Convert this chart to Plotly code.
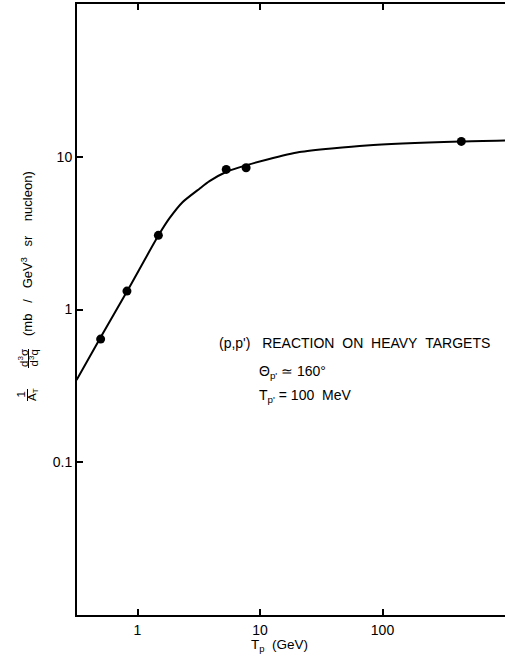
import plotly.graph_objects as go

# measured data points
pt_x = [0.50, 0.82, 1.48, 5.3, 7.7, 440]
pt_y = [0.64, 1.32, 3.06, 8.26, 8.47, 12.6]

# fitted curve
curve_x = [0.318, 0.499, 0.829, 1.484, 1.825, 2.33, 3.21, 3.87, 5.33, 7.76, 11.5, 21.0, 74.0, 433, 1000]
curve_y = [0.345, 0.656, 1.33, 3.06, 3.96, 5.04, 6.18, 6.92, 7.98, 8.80, 9.60, 10.73, 11.86, 12.59, 12.78]

x_ticks = [1, 10, 100]
y_ticks = [0.1, 1, 10]

FONT = "Liberation Sans, Arial, sans-serif"

fig = go.Figure()
fig.add_trace(go.Scatter(x=curve_x, y=curve_y, mode="lines",
                         line=dict(color="black", width=2, shape="spline", smoothing=0.6),
                         showlegend=False, hoverinfo="skip"))
fig.add_trace(go.Scatter(x=pt_x, y=pt_y, mode="markers",
                         marker=dict(color="black", size=9),
                         showlegend=False))

W, H = 505, 660
L, R, T, B = 77, 0, 4, 45
pw, ph = W - L - R, H - T - B

def px(x):
    return (x - L) / pw

def py(y):
    return (H - B - y) / ph

NB = "\u00a0"
anns = []
tf = dict(family=FONT, size=14, color="black")
anns.append(dict(x=px(217), y=py(343), xref="paper", yref="paper", xanchor="left", yanchor="middle",
                 text="(p,p')" + NB * 3 + "REACTION" + NB * 2 + "ON" + NB * 2 + "HEAVY" + NB * 2 + "TARGETS",
                 showarrow=False, font=tf))
anns.append(dict(x=px(257), y=py(372), xref="paper", yref="paper", xanchor="left", yanchor="middle",
                 text="\u0398<sub>p'</sub> \u2243 160\u00b0", showarrow=False, font=tf))
anns.append(dict(x=px(257), y=py(396), xref="paper", yref="paper", xanchor="left", yanchor="middle",
                 text="T<sub>p'</sub> = 100" + NB * 2 + "MeV", showarrow=False, font=tf))
# x title
anns.append(dict(x=px(279), y=py(645), xref="paper", yref="paper", xanchor="center", yanchor="middle",
                 text="T<sub>p</sub>" + NB * 2 + "(GeV)", showarrow=False,
                 font=dict(family=FONT, size=13.5, color="black")))

# y title pieces (rotated)
yf = dict(family=FONT, size=11.5, color="black")

def rot(xc, yc, text, size=11.5):
    anns.append(dict(x=px(xc), y=py(yc), xref="paper", yref="paper", xanchor="center", yanchor="middle",
                     text=text, textangle=-90, showarrow=False,
                     font=dict(family=FONT, size=size, color="black")))

rot(20.5, 395, "1")
rot(33, 395, "A<sub>T</sub>")
rot(23, 358, "d<sup>3</sup>\u03c3")
rot(33.5, 358, "d<sup>3</sup>q")
rot(27, 254, "(mb" + NB * 3 + "/" + NB * 3 + "GeV<sup>3</sup>" + NB * 3 + "sr" + NB * 4 + "nucleon)", size=13)

shapes = [
    dict(type="line", xref="paper", yref="paper", x0=px(27.5), x1=px(27.5), y0=py(389), y1=py(401),
         line=dict(color="black", width=1)),
    dict(type="line", xref="paper", yref="paper", x0=px(28.5), x1=px(28.5), y0=py(349), y1=py(368),
         line=dict(color="black", width=1)),
]

fig.update_layout(
    width=W, height=H,
    margin=dict(l=L, r=R, t=T, b=B),
    paper_bgcolor="white", plot_bgcolor="white",
    font=dict(family=FONT, size=14, color="black"),
    annotations=anns,
    shapes=shapes,
    xaxis=dict(type="log", range=[-0.494, 3], tickvals=x_ticks, ticktext=[str(v) for v in x_ticks],
               ticks="inside", ticklen=6, tickwidth=1.5, tickcolor="black",
               showline=True, linecolor="black", linewidth=2, mirror="ticks",
               showgrid=False, zeroline=False, ticklabelstandoff=1),
    yaxis=dict(type="log", range=[-2, 2], tickvals=y_ticks, ticktext=["0.1", "1", "10"],
               ticks="inside", ticklen=6, tickwidth=1.5, tickcolor="black",
               showline=True, linecolor="black", linewidth=2,
               showgrid=False, zeroline=False),
)

fig.write_html("out.html")
